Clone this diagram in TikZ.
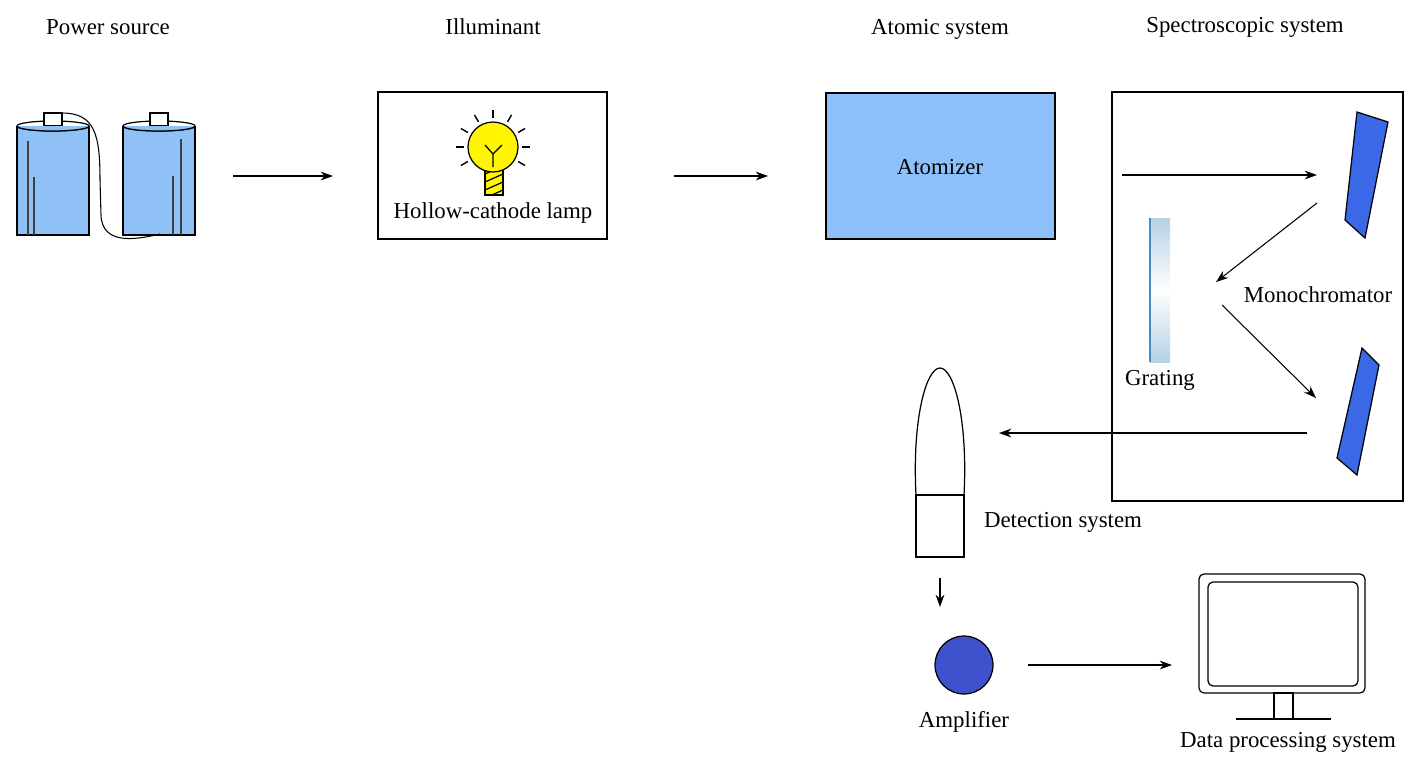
\documentclass[tikz,border=0pt]{standalone}
\usepackage{fontspec}
\setmainfont{Liberation Serif}
\definecolor{battblue}{RGB}{143, 192, 246}
\definecolor{atomblue}{RGB}{142, 193, 250}
\definecolor{mirrorblue}{RGB}{58, 104, 230}
\definecolor{ampblue}{RGB}{62, 82, 205}
\definecolor{bulbyellow}{RGB}{255, 245, 0}
\definecolor{gratblue}{RGB}{70, 140, 190}
\usetikzlibrary{arrows.meta, positioning, calc}
\tikzset{
  lbl/.style={font=\fontsize{13}{15}\selectfont, inner sep=1pt},
  arr/.style={-{Stealth[length=7pt, width=5pt]}, line width=0.6pt},
  part/.style={line width=0.7pt}
}

\begin{document}
\begin{tikzpicture}[x=0.02cm, y=-0.02cm]
  \useasboundingbox (0,0) rectangle (1417,772);

  % Titles
  \node[lbl] (tpower) at (108,27) {Power source};
  \node[lbl] (tillum) at (493,27) {Illuminant};
  \node[lbl] (tatom) at (940,29) {Atomic system};
  \node[lbl] (tspec) at (1245,27) {Spectroscopic system};

  % Batteries
  \foreach \l in {17, 123} {
    \fill[battblue] (\l,126) rectangle (\l+72,235);
    \filldraw[part, fill=white] (\l+36,126) ellipse [x radius=0.72cm, y radius=0.1cm];
    \draw[part] (\l,126) -- (\l,235) -- (\l+72,235) -- (\l+72,126);
    \filldraw[part, fill=white] (\l+27,113) rectangle (\l+45,126);
  }
  \draw[part, fill=battblue] (17,126) arc[start angle=180, end angle=360, x radius=0.72cm, y radius=0.1cm];
  \draw[part, fill=battblue] (123,126) arc[start angle=180, end angle=360, x radius=0.72cm, y radius=0.1cm];
  \draw[line width=1pt, black!75] (28,141) -- (28,235) (34,177) -- (34,235);
  \draw[line width=1pt, black!75] (181,139) -- (181,235) (173,176) -- (173,235);
  \draw[line width=0.6pt] (62,113) .. controls (95,113) and (100,135) .. (100,180)
    -- (101,215) .. controls (102,245) and (135,240) .. (160,234);

  \coordinate (a1s) at (233,176);
  \coordinate (a1e) at (333,176);
  \draw[arr] (a1s) -- (a1e);

  % Hollow-cathode lamp
  \draw[part] (378,92) rectangle (607,239);
  \coordinate (bulb) at (493,147);
  \foreach \a in {-90,-60,-30,0,30,-120,-150,180,150}
    \draw[line width=0.8pt] ($(bulb)+(\a:29)$) -- ($(bulb)+(\a:37)$);
  \begin{scope}
    \clip (485,170) rectangle (503,195);
    \fill[bulbyellow] (485,170) rectangle (503,195);
    \foreach \s in {168,176,184,192}
      \draw[line width=0.7pt] (485,\s+6) -- (503,\s-2);
  \end{scope}
  \draw[part] (485,170) rectangle (503,195);
  \filldraw[part, fill=bulbyellow] (bulb) circle[radius=0.5cm];
  \draw[line width=0.7pt] (493,167) -- (493,154) -- (485,145) (493,154) -- (502,145);
  \node[lbl] (lamp) at (493,213) {Hollow-cathode lamp};

  \coordinate (a2s) at (674,176);
  \coordinate (a2e) at (768,176);
  \draw[arr] (a2s) -- (a2e);

  % Atomizer
  \filldraw[part, fill=atomblue] (826,93) rectangle (1055,239);
  \node[lbl] (atomizer) at (940,167) {Atomizer};

  % Monochromator
  \draw[part] (1112,92) rectangle (1403,501);
  \filldraw[part, fill=mirrorblue] (1357,112) -- (1388,122) -- (1365,238) -- (1345,220) -- cycle;
  \filldraw[part, fill=mirrorblue] (1362,348) -- (1379,365) -- (1357,475) -- (1337,458) -- cycle;
  \shade[top color=gratblue!40, bottom color=gratblue!40, middle color=white] (1150,218) rectangle (1170,362);
  \draw[gratblue, line width=1pt] (1150,218) -- (1150,362);
  \node[lbl] (grating) at (1160,380) {Grating};
  \node[lbl] (mono) at (1318,295) {Monochromator};

  \coordinate (m1s) at (1122,175);
  \coordinate (m1e) at (1317,175);
  \coordinate (m2s) at (1317,203);
  \coordinate (m2e) at (1216,282);
  \coordinate (m3s) at (1222,305);
  \coordinate (m3e) at (1316,398);
  \coordinate (m4s) at (1307,433);
  \coordinate (m4e) at (999,433);
  \draw[arr] (m1s) -- (m1e);
  \draw[arr] (m2s) -- (m2e);
  \draw[arr] (m3s) -- (m3e);
  \draw[arr] (m4s) -- (m4e);

  % Detector
  \draw[part] (916,495) .. controls (912,420) and (926,368) .. (940,368)
    .. controls (954,368) and (968,420) .. (964,495);
  \draw[part] (916,495) rectangle (964,557);
  \node[lbl] (detect) at (1063,522) {Detection system};

  \coordinate (d1s) at (940,578);
  \coordinate (d1e) at (940,607);
  \draw[arr] (d1s) -- (d1e);

  % Amplifier
  \filldraw[part, fill=ampblue] (964,665) circle[radius=0.58cm];
  \node[lbl] (amp) at (964,722) {Amplifier};

  \coordinate (d2s) at (1028,665);
  \coordinate (d2e) at (1172,665);
  \draw[arr] (d2s) -- (d2e);

  % Monitor
  \draw[part, rounded corners=0.1cm] (1199,574) rectangle (1365,693);
  \draw[part, rounded corners=0.1cm] (1208,582) rectangle (1358,686);
  \draw[part] (1274,693) rectangle (1293,719);
  \draw[part] (1236,719) -- (1331,719);
  \node[lbl] (data) at (1288,742) {Data processing system};
\end{tikzpicture}
\end{document}
